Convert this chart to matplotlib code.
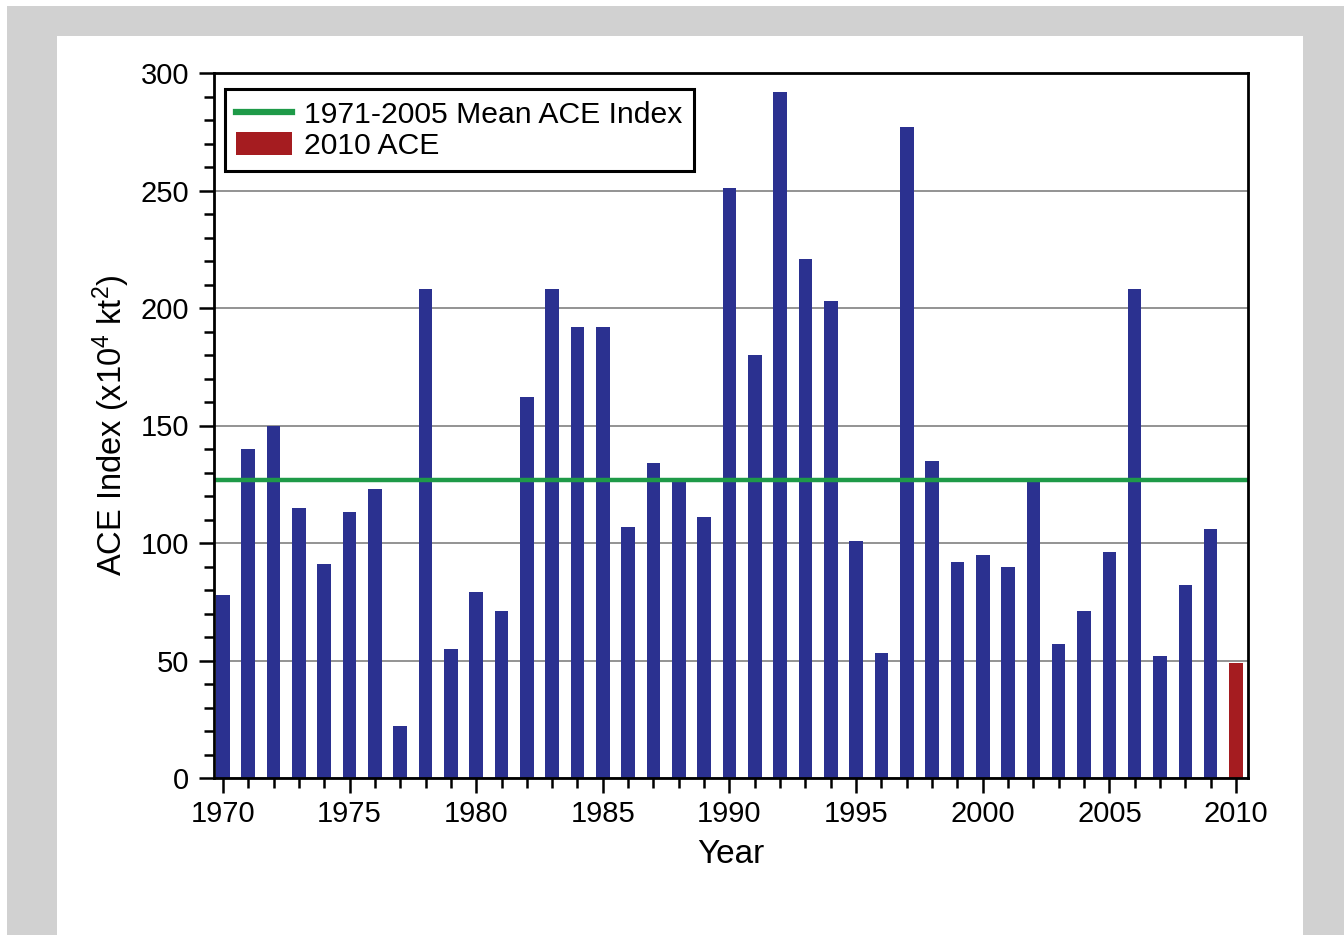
import matplotlib
matplotlib.use("Agg")
import matplotlib.pyplot as plt
from matplotlib.patches import Rectangle, Patch
from matplotlib.lines import Line2D
from matplotlib.ticker import MultipleLocator

plt.rcParams['font.family'] = ['Liberation Sans', 'DejaVu Sans']
plt.rcParams['mathtext.fontset'] = 'custom'
plt.rcParams['mathtext.rm'] = 'Liberation Sans'
plt.rcParams['mathtext.it'] = 'Liberation Sans'

years = list(range(1970, 2010))
ace = [78, 140, 150, 115, 91, 113, 123, 22, 208, 55,
       79, 71, 162, 208, 192, 192, 107, 134, 127, 111,
       251, 180, 292, 221, 203, 101, 53, 277, 135, 92,
       95, 90, 126, 57, 71, 96, 208, 52, 82, 106]
year_2010 = [2010]
ace_2010 = [49]
mean_ace = 127

W, H = 1344, 935
fig = plt.figure(figsize=(W / 100, H / 100), dpi=100)
fig.patch.set_facecolor('white')
fig.add_artist(Rectangle((7 / W, 0), 1 - 7 / W, 1 - 6 / H, transform=fig.transFigure,
                         facecolor='#d1d1d1', edgecolor='none', zorder=-10))
fig.add_artist(Rectangle((57 / W, 0), (1303 - 57) / W, 1 - 36 / H, transform=fig.transFigure,
                         facecolor='white', edgecolor='none', zorder=-9))

ax = fig.add_axes([214 / W, 1 - 778 / H, (1248 - 214) / W, (778 - 73) / H])
ax.set_zorder(1)
ax.set_facecolor('white')

blue = '#2b3190'
red = '#a51c20'
green = '#1e9a48'

ax.bar(years, ace, width=0.53, color=blue, zorder=3)
ax.bar(year_2010, ace_2010, width=0.53, color=red, zorder=3)
ax.axhline(mean_ace, color=green, lw=3.2, zorder=4)

ax.set_xlim(1969.65, 2010.47)
ax.set_ylim(0, 300)
ax.yaxis.set_major_locator(MultipleLocator(50))
ax.yaxis.set_minor_locator(MultipleLocator(10))
ax.xaxis.set_major_locator(MultipleLocator(5))
ax.xaxis.set_minor_locator(MultipleLocator(1))
ax.grid(axis='y', which='major', color='#8a8a8a', lw=1.3, zorder=1)

for s in ax.spines.values():
    s.set_linewidth(2.0)
    s.set_color('black')
    s.set_zorder(5)

ax.tick_params(axis='both', which='major', direction='out', length=11, width=1.8,
               labelsize=21, pad=5, colors='black')
ax.tick_params(axis='both', which='minor', direction='out', length=7, width=1.8)
ax.tick_params(axis='y', which='major', pad=7)

ax.set_xlabel('Year', fontsize=24, labelpad=8)
ax.set_ylabel(r'ACE Index (x10$^4$ kt$^2$)', fontsize=23.5, labelpad=6)

handles = [Line2D([0], [0], color=green, lw=4.5),
           Patch(facecolor=red, edgecolor='none')]
labels = ['1971-2005 Mean ACE Index', '2010 ACE']
leg = ax.legend(handles, labels, loc='upper left', bbox_to_anchor=(0.0105, 0.977),
                fontsize=21.7, frameon=True, fancybox=False, framealpha=1,
                edgecolor='black', handlelength=1.85, handleheight=0.8,
                handletextpad=0.4, borderpad=0.38, labelspacing=0.1, borderaxespad=0)
leg.get_frame().set_linewidth(2.2)
leg.set_zorder(6)

fig.savefig('out.png', dpi=100)
